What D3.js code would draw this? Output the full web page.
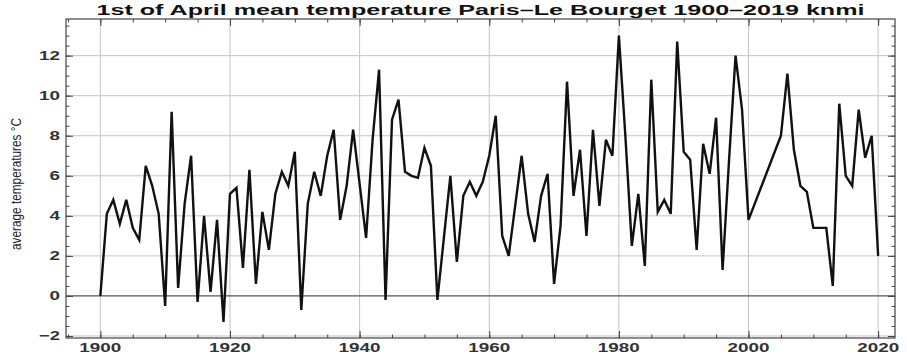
<!DOCTYPE html>
<html lang="en">
<head>
<meta charset="utf-8">
<script src="https://d3js.org/d3.v7.min.js"></script>
<style>
  body { margin: 0; background: #fff; }
  text { font-family: "Liberation Sans", Arial, sans-serif; }
</style>
</head>
<body>
<script>
// 1st of April mean temperature, one value per year (null = no value, line joins across)
var years = d3.range(1900, 2021);
var temps = [
  0.0, 4.1, 4.8, 3.6, 4.8, 3.4, 2.8, 6.5, 5.5, 4.1,     // 1900s
  -0.5, 9.2, 0.4, 4.6, 7.0, -0.3, 4.0, 0.2, 3.8, -1.3,  // 1910s
  5.1, 5.4, 1.4, 6.3, 0.6, 4.2, 2.3, 5.1, 6.2, 5.5,     // 1920s
  7.2, -0.7, 4.6, 6.2, 5.0, 7.0, 8.3, 3.8, 5.5, 8.3,    // 1930s
  5.6, 2.9, 7.8, 11.3, -0.2, 8.8, 9.8, 6.2, 6.0, 5.9,   // 1940s
  7.4, 6.5, -0.2, 2.9, 6.0, 1.7, 5.0, 5.7, 5.0, 5.7,    // 1950s
  7.0, 9.0, 3.0, 2.0, 4.5, 7.0, 4.1, 2.7, 5.0, 6.1,     // 1960s
  0.6, 3.5, 10.7, 5.0, 7.3, 3.0, 8.3, 4.5, 7.8, 7.0,    // 1970s
  13.0, 8.0, 2.5, 5.1, 1.5, 10.8, 4.2, 4.8, 4.1, 12.7,  // 1980s
  7.2, 6.8, 2.3, 7.6, 6.1, 8.9, 1.3, 6.8, 12.0, 9.3,    // 1990s
  3.8, null, null, null, null, 8.0, 11.1, 7.3, 5.5, 5.2, // 2000s
  3.4, 3.4, 3.4, 0.5, 9.6, 6.0, 5.5, 9.3, 6.9, 8.0,     // 2010s
  2.0                                                   // 2020
];
var xTicks = [1900, 1920, 1940, 1960, 1980, 2000, 2020];
var yTicks = [-2, 0, 2, 4, 6, 8, 10, 12];

var W = 907, H = 359;
// plot frame (note: "top" is taken by window.top)
var pL = 66, pR = 895, pT = 19, pB = 338;

var svg = d3.select("body").append("svg")
  .attr("width", W).attr("height", H);

svg.append("rect").attr("width", W).attr("height", H).attr("fill", "#fff");

var x = d3.scaleLinear().domain([1894.7, 2022.6]).range([pL, pR]);
var y = d3.scaleLinear().domain([-2.1, 13.83]).range([pB, pT]);

// grid
svg.append("g").selectAll("line").data(xTicks).enter().append("line")
  .attr("x1", d => x(d)).attr("x2", d => x(d))
  .attr("y1", pT).attr("y2", pB)
  .attr("stroke", "#c4c4c4").attr("stroke-width", 1);
svg.append("g").selectAll("line").data(yTicks.filter(d => d !== 0)).enter().append("line")
  .attr("x1", pL).attr("x2", pR)
  .attr("y1", d => y(d)).attr("y2", d => y(d))
  .attr("stroke", "#c4c4c4").attr("stroke-width", 1);
svg.append("line")
  .attr("x1", pL).attr("x2", pR)
  .attr("y1", y(0)).attr("y2", y(0))
  .attr("stroke", "#555").attr("stroke-width", 1.2);

// tick marks on all four sides, pointing inwards
var minorX = d3.range(1895, 2023, 5);
var minorY = d3.range(-2, 14, 0.5);
function axisTicks(axis, pos) {
  return svg.append("g").attr("transform", pos).call(axis)
    .call(g => g.select(".domain").remove())
    .call(g => g.selectAll("line").attr("stroke", "#444"));
}
var fmtNone = () => "";
axisTicks(d3.axisBottom(x).tickValues(minorX).tickSize(-3.5).tickFormat(fmtNone), "translate(0," + pB + ")");
axisTicks(d3.axisBottom(x).tickValues(xTicks).tickSize(-7).tickFormat(fmtNone), "translate(0," + pB + ")");
axisTicks(d3.axisTop(x).tickValues(minorX).tickSize(-3.5).tickFormat(fmtNone), "translate(0," + pT + ")");
axisTicks(d3.axisTop(x).tickValues(xTicks).tickSize(-7).tickFormat(fmtNone), "translate(0," + pT + ")");
axisTicks(d3.axisLeft(y).tickValues(minorY).tickSize(-3.5).tickFormat(fmtNone), "translate(" + pL + ",0)");
axisTicks(d3.axisLeft(y).tickValues(yTicks).tickSize(-7).tickFormat(fmtNone), "translate(" + pL + ",0)");
axisTicks(d3.axisRight(y).tickValues(minorY).tickSize(-3.5).tickFormat(fmtNone), "translate(" + pR + ",0)");
axisTicks(d3.axisRight(y).tickValues(yTicks).tickSize(-7).tickFormat(fmtNone), "translate(" + pR + ",0)");

// frame
svg.append("rect")
  .attr("x", pL).attr("y", pT)
  .attr("width", pR - pL).attr("height", pB - pT)
  .attr("fill", "none").attr("stroke", "#444").attr("stroke-width", 1.2);

// data line
var pts = years.map((d, i) => [d, temps[i]]).filter(d => d[1] !== null);
var line = d3.line().x(d => x(d[0])).y(d => y(d[1]));
svg.append("path").datum(pts)
  .attr("d", line)
  .attr("fill", "none")
  .attr("stroke", "#111")
  .attr("stroke-width", 2.4)
  .attr("stroke-linejoin", "miter");

// tick labels (the picture is stretched sideways, hence textLength)
svg.append("g").selectAll("text").data(xTicks).enter().append("text")
  .attr("x", d => x(d)).attr("y", 352)
  .attr("text-anchor", "middle")
  .attr("font-size", 13).attr("font-weight", "bold").attr("fill", "#333")
  .attr("textLength", 42).attr("lengthAdjust", "spacingAndGlyphs")
  .text(d => d);
svg.append("g").selectAll("text").data(yTicks).enter().append("text")
  .attr("x", 60).attr("y", d => y(d) + 4.5)
  .attr("text-anchor", "end")
  .attr("font-size", 13).attr("font-weight", "bold").attr("fill", "#333")
  .attr("textLength", d => String(d).length * 10.5)
  .attr("lengthAdjust", "spacingAndGlyphs")
  .text(d => d < 0 ? "\u2212" + Math.abs(d) : d);

// title
svg.append("text")
  .attr("x", (pL + pR) / 2).attr("y", 15)
  .attr("text-anchor", "middle")
  .attr("font-size", 15.5).attr("font-weight", "bold").attr("fill", "#111")
  .attr("textLength", 768).attr("lengthAdjust", "spacingAndGlyphs")
  .text("1st of April mean temperature Paris\u2013Le Bourget 1900\u20132019 knmi");

// y axis title
svg.append("text")
  .attr("transform", "translate(21,184) rotate(-90)")
  .attr("text-anchor", "middle")
  .attr("font-size", 14).attr("fill", "#222")
  .attr("textLength", 132).attr("lengthAdjust", "spacingAndGlyphs")
  .text("average temperatures \u00B0C");
</script>
</body>
</html>
